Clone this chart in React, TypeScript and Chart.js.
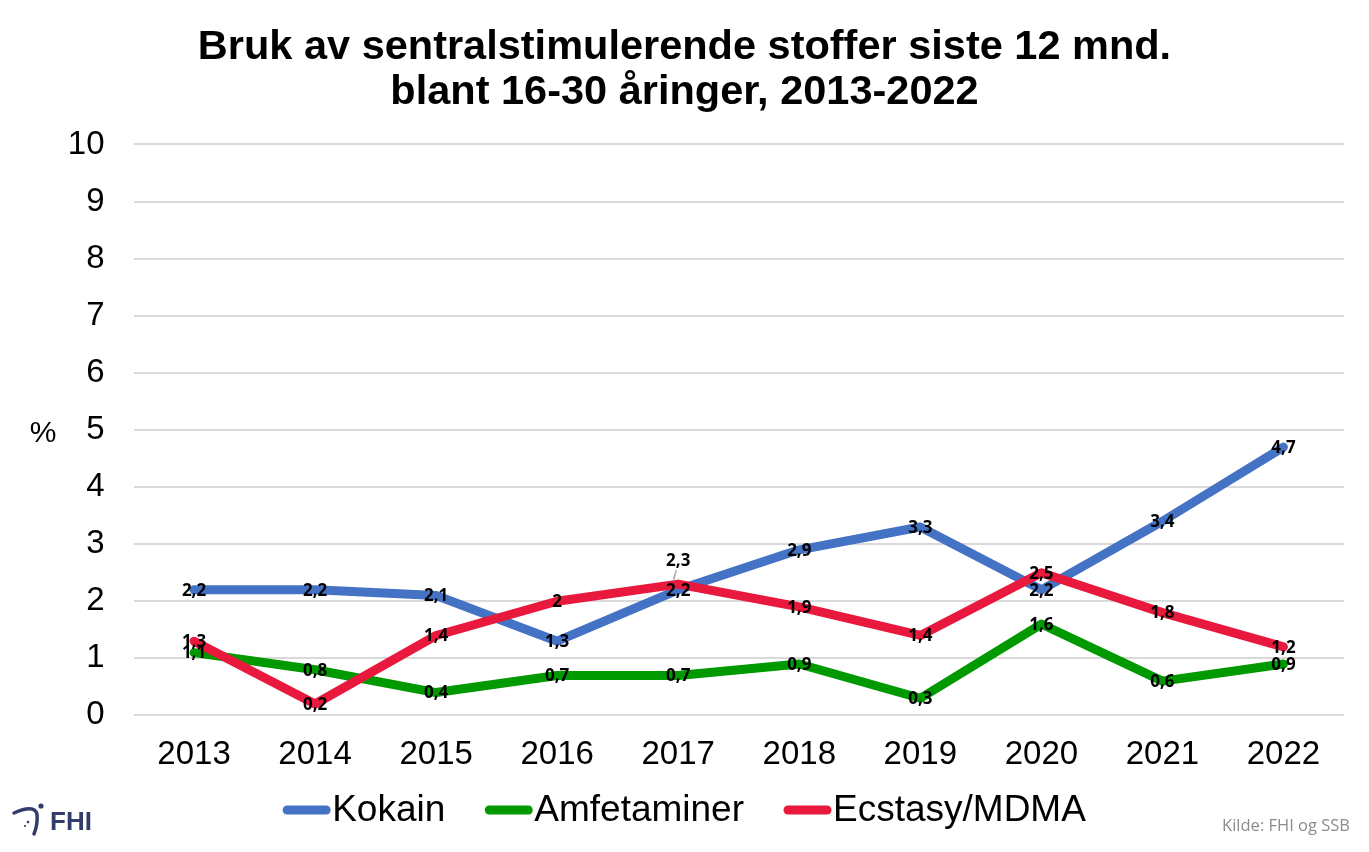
import React, { useEffect, useRef } from "react";
import { Chart, registerables } from "chart.js";

Chart.register(...registerables);

const years = ["2013", "2014", "2015", "2016", "2017", "2018", "2019", "2020", "2021", "2022"];
const kokain = [2.2, 2.2, 2.1, 1.3, 2.2, 2.9, 3.3, 2.2, 3.4, 4.7];
const amfetaminer = [1.1, 0.8, 0.4, 0.7, 0.7, 0.9, 0.3, 1.6, 0.6, 0.9];
const ecstasy = [1.3, 0.2, 1.4, 2, 2.3, 1.9, 1.4, 2.5, 1.8, 1.2];
const seriesNames = ["Kokain", "Amfetaminer", "Ecstasy/MDMA"];
const titleLines = ["Bruk av sentralstimulerende stoffer siste 12 mnd.", "blant 16-30 åringer, 2013-2022"];
const yTitle = "%";
const sourceText = "Kilde: FHI og SSB";

const FONT = "'Liberation Sans', Arial, sans-serif";
const LABEL_FONT = "bold 17px 'Open Sans', 'DejaVu Sans', sans-serif";

const fmt = (v: number) => String(v).replace(".", ",");

const extrasPlugin = {
  id: "extras",
  afterDatasetsDraw(chart: any) {
    const ctx = chart.ctx;
    ctx.save();
    ctx.font = LABEL_FONT;
    ctx.fillStyle = "#000";
    ctx.textAlign = "center";
    ctx.textBaseline = "middle";
    chart.data.datasets.forEach((ds: any, di: number) => {
      const meta = chart.getDatasetMeta(di);
      meta.data.forEach((pt: any, i: number) => {
        const v = ds.data[i];
        let y = pt.y + 1;
        if (di === 2 && i === 4) {
          ctx.strokeStyle = "#a6a6a6";
          ctx.lineWidth = 1.5;
          ctx.beginPath();
          ctx.moveTo(pt.x - 2, pt.y - 14);
          ctx.lineTo(pt.x - 5, pt.y - 3);
          ctx.stroke();
          y = pt.y - 23;
        }
        ctx.fillText(fmt(v), pt.x, y);
      });
    });
    ctx.restore();
  },
  afterDraw(chart: any) {
    const ctx = chart.ctx;
    const area = chart.chartArea;
    ctx.save();
    // y axis title
    ctx.font = `30px ${FONT}`;
    ctx.fillStyle = "#000";
    ctx.textAlign = "center";
    ctx.textBaseline = "middle";
    ctx.fillText(yTitle, 43, (area.top + area.bottom) / 2 + 4);

    // legend
    ctx.font = `37px ${FONT}`;
    ctx.textAlign = "left";
    const lineW = 47, gap = 2, spacing = 40;
    const items = chart.data.datasets.map((ds: any) => ({
      text: ds.label,
      color: ds.borderColor,
      w: ctx.measureText(ds.label).width,
    }));
    const total = items.reduce((s: number, it: any) => s + lineW + gap + it.w, 0) + spacing * (items.length - 1);
    let x = chart.width / 2 - total / 2;
    const ly = 810;
    items.forEach((it: any) => {
      ctx.strokeStyle = it.color;
      ctx.lineWidth = 9;
      ctx.lineCap = "round";
      ctx.beginPath();
      ctx.moveTo(x + 4, ly);
      ctx.lineTo(x + lineW - 4, ly);
      ctx.stroke();
      ctx.fillStyle = "#000";
      ctx.fillText(it.text, x + lineW + gap, ly + 1);
      x += lineW + gap + it.w + spacing;
    });

    // source
    ctx.font = "16.5px 'Open Sans', 'DejaVu Sans', sans-serif";
    ctx.fillStyle = "#8c8c8c";
    ctx.textAlign = "right";
    ctx.fillText(sourceText, 1350, 826);

    // FHI logo
    const lx = 14, lgy = 820;
    ctx.fillStyle = "#333d6b";
    ctx.strokeStyle = "#333d6b";
    ctx.lineWidth = 3.5;
    ctx.lineCap = "round";
    ctx.beginPath();
    ctx.moveTo(lx, lgy - 7);
    ctx.quadraticCurveTo(lx + 20, lgy - 16, lx + 23, lgy - 6);
    ctx.quadraticCurveTo(lx + 24, lgy + 4, lx + 20, lgy + 14);
    ctx.stroke();
    ctx.beginPath();
    ctx.arc(lx + 27, lgy - 14, 2.6, 0, Math.PI * 2);
    ctx.fill();
    ctx.beginPath();
    ctx.arc(lx + 14, lgy + 2, 1.3, 0, Math.PI * 2);
    ctx.fill();
    ctx.beginPath();
    ctx.arc(lx + 11, lgy + 6, 1.1, 0, Math.PI * 2);
    ctx.fill();
    ctx.font = `bold 26px ${FONT}`;
    ctx.textAlign = "left";
    ctx.textBaseline = "middle";
    ctx.fillText("FHI", lx + 36, lgy + 3);
    ctx.restore();
  },
};

export default function App() {
  const ref = useRef<HTMLCanvasElement | null>(null);
  useEffect(() => {
    document.body.style.margin = "0";
    const colors = ["#4472C4", "#009A00", "#E8193C"];
    const data = [kokain, amfetaminer, ecstasy];
    const chart = new Chart(ref.current!, {
      type: "line",
      data: {
        labels: years,
        datasets: data.map((d, i) => ({
          label: seriesNames[i],
          data: d,
          borderColor: colors[i],
          backgroundColor: colors[i],
          borderWidth: 9,
          pointRadius: 0,
          pointHoverRadius: 0,
          borderCapStyle: "round" as const,
          borderJoinStyle: "round" as const,
          tension: 0,
          order: 3 - i,
        })),
      },
      options: {
        responsive: false,
        animation: false,
        layout: { padding: { left: 25, right: 25, top: 0, bottom: 57 } },
        plugins: {
          title: {
            display: true,
            text: titleLines,
            font: { family: FONT, size: 41.5, weight: "bold", lineHeight: 1.09 },
            color: "#000",
            padding: { top: 25, bottom: 29 },
          },
          legend: { display: false },
          tooltip: { enabled: false },
        },
        scales: {
          x: {
            offset: true,
            grid: { display: false, drawTicks: false },
            border: { display: false },
            ticks: { font: { family: FONT, size: 33 }, color: "#000", padding: 20 },
          },
          y: {
            min: 0,
            max: 10,
            afterFit: (scale: any) => {
              scale.width = 108.5;
            },
            grid: { color: "#d9d9d9", lineWidth: 2, drawTicks: false },
            border: { display: false },
            ticks: { stepSize: 1, font: { family: FONT, size: 33 }, color: "#000", padding: 29 },
          },
        },
      },
      plugins: [extrasPlugin],
    });
    return () => chart.destroy();
  }, []);
  return (
    <div style={{ position: "fixed", left: 0, top: 0, width: 1369, height: 852, background: "#fff" }}>
      <canvas ref={ref} width={1369} height={852} />
    </div>
  );
}
